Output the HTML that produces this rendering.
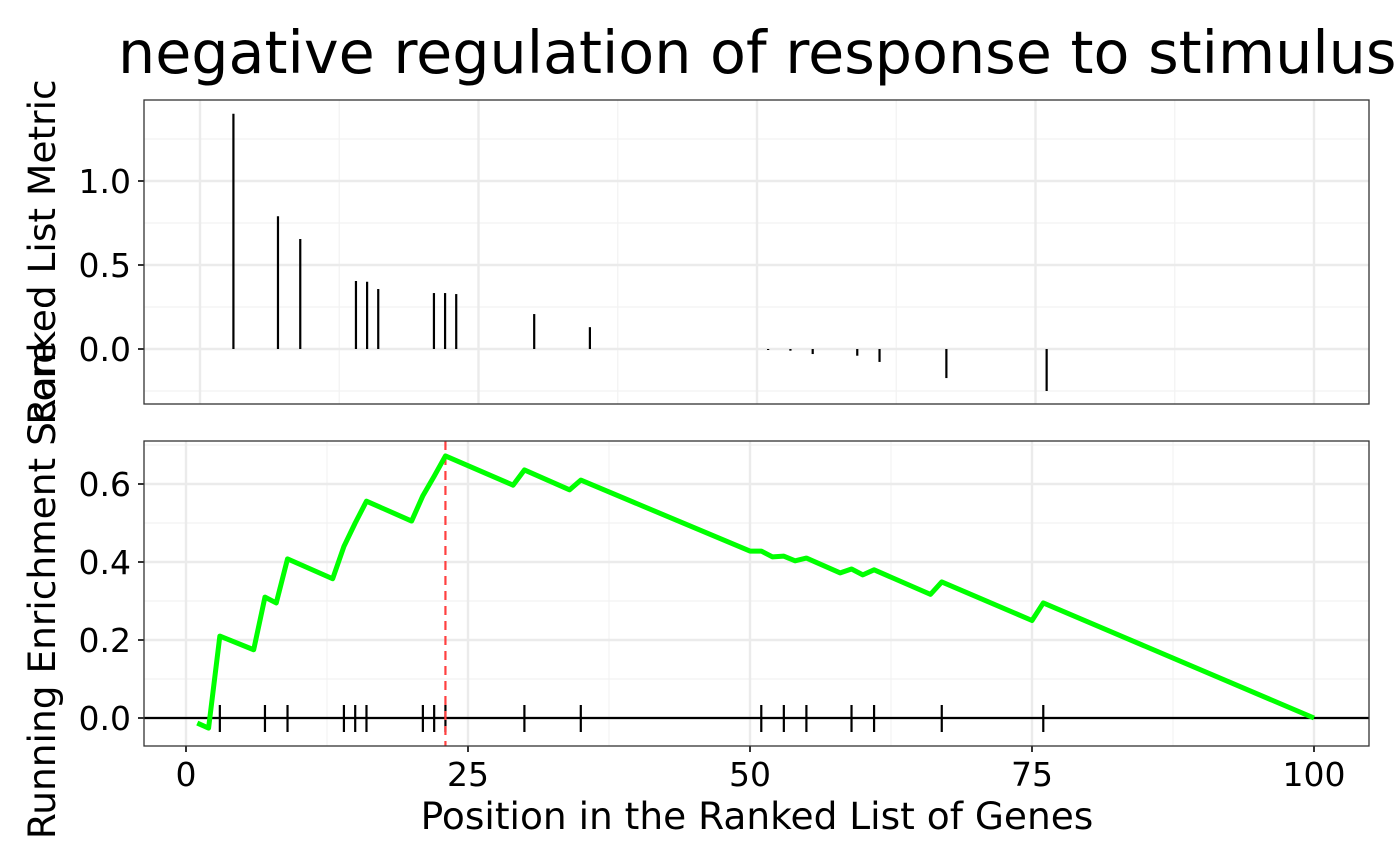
<!DOCTYPE html>
<html><head><meta charset="utf-8"><style>
html,body{margin:0;padding:0;background:#fff;}
svg{display:block;font-family:"DejaVu Sans","Liberation Sans",sans-serif;}
</style></head><body>
<svg id="chart" width="1400" height="866" xmlns="http://www.w3.org/2000/svg">
<text x="118" y="73" font-size="58.7" fill="#000">negative regulation of response to stimulus</text>
<g id="topPanel"></g>
<g id="botPanel"></g>
<text x="757" y="829" font-size="37.5" text-anchor="middle">Position in the Ranked List of Genes</text>
<text transform="translate(55,252) rotate(-90)" font-size="37.5" text-anchor="middle">Ranked List Metric</text>
<text transform="translate(55,590) rotate(-90)" font-size="37.5" text-anchor="middle">Running Enrichment Score</text>
</svg>
<script>
const hitPositions=[3,7,9,14,15,16,21,22,23,30,35,51,53,55,59,61,67,76];
const metricValues=[1.40,0.79,0.655,0.405,0.40,0.357,0.333,0.333,0.327,0.208,0.13,-0.006,-0.01,-0.03,-0.04,-0.077,-0.173,-0.25];
const esPositions=[1,2,3,6,7,8,9,13,14,15,16,20,21,22,23,29,30,34,35,50,51,52,53,54,55,58,59,60,61,66,67,75,76,100];
const esValues=[-0.013,-0.026,0.21,0.175,0.31,0.295,0.408,0.357,0.44,0.5,0.556,0.505,0.57,0.62,0.672,0.597,0.636,0.585,0.61,0.428,0.428,0.413,0.415,0.403,0.41,0.372,0.382,0.367,0.38,0.317,0.349,0.25,0.295,0];
const xTickLabels=["0","25","50","75","100"];
const xTickValues=[0,25,50,75,100];
const topYTicks=[0,0.5,1.0];
const topYLabels=["0.0","0.5","1.0"];
const botYTicks=[0,0.2,0.4,0.6];
const botYLabels=["0.0","0.2","0.4","0.6"];
const esPeak=23;

const NS="http://www.w3.org/2000/svg";
function mk(parent,tag,attrs){const e=document.createElementNS(NS,tag);for(const k in attrs)e.setAttribute(k,attrs[k]);parent.appendChild(e);return e;}
const L=144,R=1369;
const xTop=v=>200+v*11.14;
const yTop=v=>349-v*168;
const xBot=v=>186+v*11.28;
const yBot=v=>718-v*390;
const topP=document.getElementById('topPanel'),botP=document.getElementById('botPanel');

// top panel
mk(topP,'rect',{x:L,y:100,width:R-L,height:304,fill:'#fff'});
[-0.25,0.25,0.75,1.25].forEach(v=>mk(topP,'line',{x1:L,x2:R,y1:yTop(v),y2:yTop(v),stroke:'#f2f2f2','stroke-width':1.2}));
[12.5,37.5,62.5,87.5].forEach(v=>mk(topP,'line',{x1:xTop(v),x2:xTop(v),y1:100,y2:404,stroke:'#f2f2f2','stroke-width':1.2}));
topYTicks.forEach((v,i)=>{
 mk(topP,'line',{x1:L,x2:R,y1:yTop(v),y2:yTop(v),stroke:'#ebebeb','stroke-width':2.4});
 mk(topP,'line',{x1:L-6,x2:L,y1:yTop(v),y2:yTop(v),stroke:'#333','stroke-width':2});
 const t=mk(topP,'text',{x:L-13,y:yTop(v)+12,'font-size':33,'text-anchor':'end',fill:'#000'});t.textContent=topYLabels[i];
 
 
});
xTickValues.forEach(v=>mk(topP,'line',{x1:xTop(v),x2:xTop(v),y1:100,y2:404,stroke:'#ebebeb','stroke-width':2.4}));
hitPositions.forEach((p,i)=>{
 const b=mk(topP,'line',{x1:xTop(p),x2:xTop(p),y1:yTop(0),y2:yTop(metricValues[i]),stroke:'#000','stroke-width':2.2});
 
 
});
mk(topP,'rect',{x:L,y:100,width:R-L,height:304,fill:'none',stroke:'#333','stroke-width':1.3});

// bottom panel
mk(botP,'rect',{x:L,y:441,width:R-L,height:305,fill:'#fff'});
[0.1,0.3,0.5,0.7].forEach(v=>mk(botP,'line',{x1:L,x2:R,y1:yBot(v),y2:yBot(v),stroke:'#f2f2f2','stroke-width':1.2}));
[12.5,37.5,62.5,87.5].forEach(v=>mk(botP,'line',{x1:xBot(v),x2:xBot(v),y1:441,y2:746,stroke:'#f2f2f2','stroke-width':1.2}));
botYTicks.forEach((v,i)=>{
 mk(botP,'line',{x1:L,x2:R,y1:yBot(v),y2:yBot(v),stroke:'#ebebeb','stroke-width':2.4});
 mk(botP,'line',{x1:L-6,x2:L,y1:yBot(v),y2:yBot(v),stroke:'#333','stroke-width':2});
 const t=mk(botP,'text',{x:L-13,y:yBot(v)+12,'font-size':33,'text-anchor':'end',fill:'#000'});t.textContent=botYLabels[i];
 
 
});
xTickValues.forEach((v,i)=>{
 mk(botP,'line',{x1:xBot(v),x2:xBot(v),y1:441,y2:746,stroke:'#ebebeb','stroke-width':2.4});
 mk(botP,'line',{x1:xBot(v),x2:xBot(v),y1:746,y2:752,stroke:'#333','stroke-width':2});
 const t=mk(botP,'text',{x:xBot(v),y:786,'font-size':33,'text-anchor':'middle',fill:'#000'});t.textContent=xTickLabels[i];
 
 
});
mk(botP,'line',{x1:L,x2:R,y1:yBot(0),y2:yBot(0),stroke:'#000','stroke-width':2.2});
hitPositions.forEach(p=>{
 const h=mk(botP,'line',{x1:xBot(p),x2:xBot(p),y1:705,y2:732,stroke:'#000','stroke-width':2.2});
 
 
});
const red=mk(botP,'line',{x1:xBot(esPeak),x2:xBot(esPeak),y1:441,y2:746,stroke:'#ff4040','stroke-width':2.2,'stroke-dasharray':'9,6'});


const pts=esPositions.map((p,i)=>xBot(p)+','+yBot(esValues[i])).join(' ');
const es=mk(botP,'polyline',{points:pts,fill:'none',stroke:'#00ff00','stroke-width':5,'stroke-linejoin':'round'});


mk(botP,'rect',{x:L,y:441,width:R-L,height:305,fill:'none',stroke:'#333','stroke-width':1.3});
</script>
</body></html>
